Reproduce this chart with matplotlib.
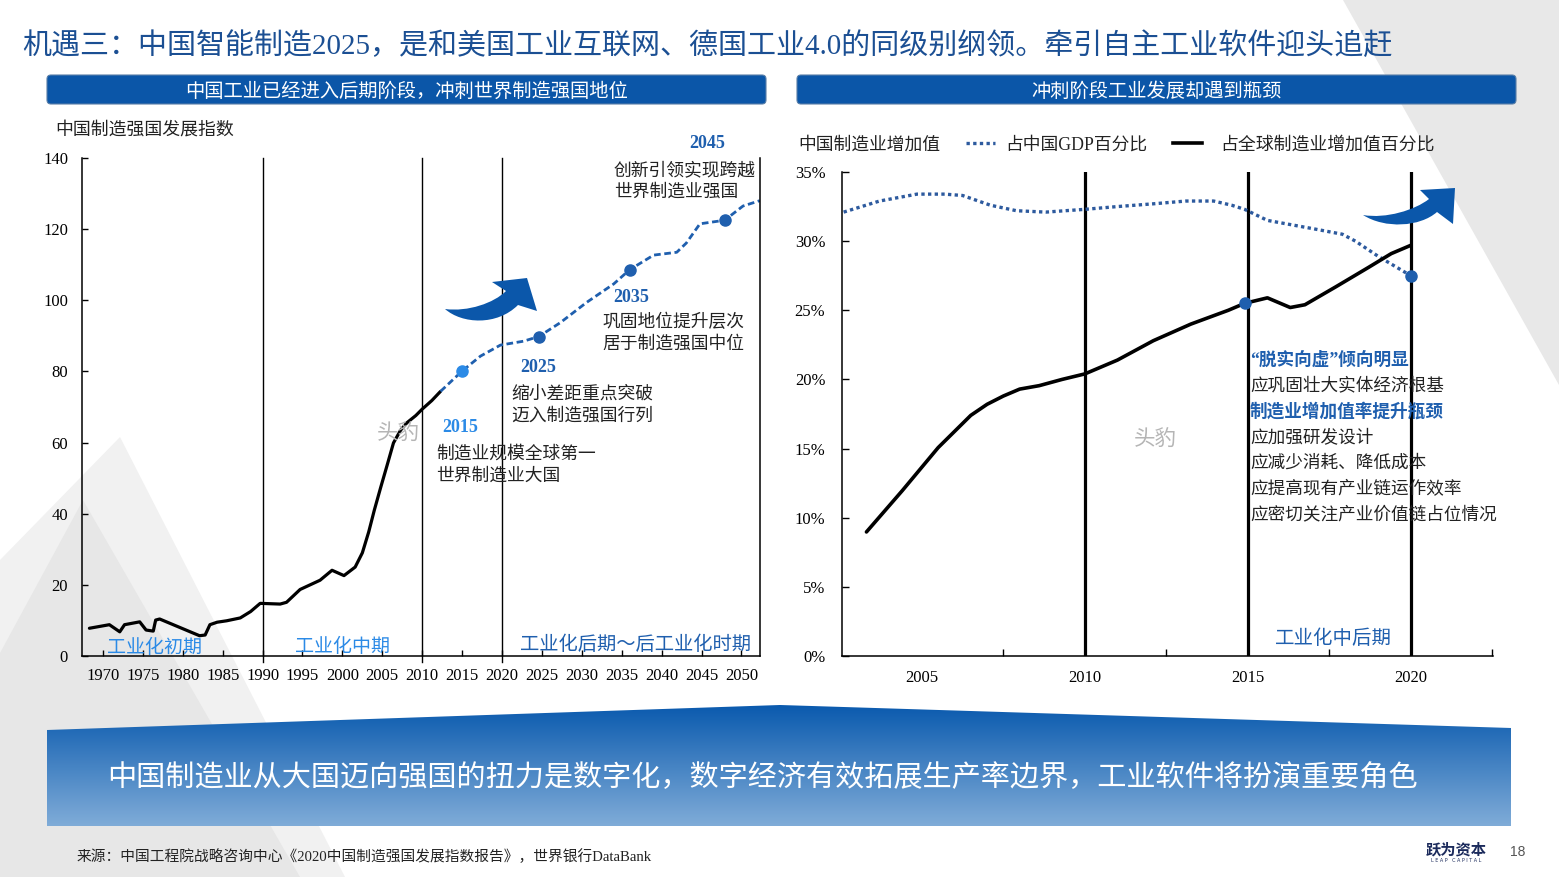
import numpy as np
import matplotlib
matplotlib.use("Agg")
import matplotlib.pyplot as plt
from matplotlib.patches import Polygon, FancyBboxPatch, PathPatch
from matplotlib.path import Path
from matplotlib.lines import Line2D

plt.rcParams['font.family'] = ['Liberation Serif', 'Noto Sans CJK SC']

# ---------------- data ----------------
# 中国制造强国发展指数 (historical, solid black)
idx_years_hist = [1968.3, 1970.8, 1972.1, 1972.7, 1974.6, 1975.4, 1976.3, 1976.6, 1977.1,
                  1982.1, 1982.8, 1983.4, 1984.3, 1985.5, 1987.2, 1988.5, 1989.7, 1992.2,
                  1993.0, 1994.7, 1997.2, 1998.7, 2000.2, 2001.6, 2002.5, 2003.3, 2004.0,
                  2004.8, 2005.6, 2006.4, 2007.3, 2008.1, 2009.2, 2010.0, 2011.2, 2012.3]
idx_values_hist = [7.8, 8.8, 6.8, 8.8, 9.6, 7.3, 7.0, 10.1, 10.4,
                   5.7, 5.9, 8.8, 9.5, 9.9, 10.7, 12.5, 14.8, 14.6,
                   15.1, 18.7, 21.3, 24.1, 22.6, 25.0, 29.0, 34.9, 41.0,
                   47.4, 53.6, 59.9, 63.5, 65.6, 67.6, 69.4, 71.8, 74.4]
# projection (dashed blue)
idx_years_proj = [2012.3, 2015.0, 2017.3, 2019.8, 2022.7, 2024.6, 2027.3, 2030.6, 2034.0,
                  2036.0, 2039.0, 2041.9, 2043.1, 2044.8, 2047.9, 2050.2, 2052.3]
idx_values_proj = [74.4, 80.1, 84.3, 87.4, 88.5, 89.8, 93.7, 99.4, 104.6,
                   108.6, 112.7, 113.5, 116.1, 121.5, 122.5, 126.5, 128.0]
milestone_x = [2015.0, 2024.6, 2036.0, 2047.9]
milestone_y = [80.1, 89.8, 108.6, 122.5]
milestone_labels = ["2015", "2025", "2035", "2045"]
milestone_text = [["制造业规模全球第一", "世界制造业大国"],
                  ["缩小差距重点突破", "迈入制造强国行列"],
                  ["巩固地位提升层次", "居于制造强国中位"],
                  ["创新引领实现跨越", "世界制造业强国"]]
left_xticks = list(range(1970, 2051, 5))
left_yticks = list(range(0, 141, 20))
left_phase_lines = [1990, 2010, 2020]

# 中国制造业增加值
gdp_years = [2002.6, 2003.7, 2004.85, 2005.7, 2006.25, 2007.1, 2007.9, 2008.8, 2010.0,
             2011.0, 2012.1, 2013.1, 2013.95, 2014.5, 2014.9, 2015.6, 2016.3, 2017.0,
             2017.9, 2018.3, 2019.0, 2020.0]
gdp_share = [32.1, 32.9, 33.4, 33.4, 33.3, 32.6, 32.2, 32.1, 32.3,
             32.5, 32.7, 32.9, 32.9, 32.6, 32.3, 31.5, 31.2, 30.9,
             30.5, 30.0, 28.9, 27.5]
glb_years = [2003.3, 2004.4, 2005.5, 2006.5, 2007.0, 2007.5, 2008.0, 2008.6, 2009.3, 2010.0,
             2011.0, 2012.1, 2013.25, 2014.4, 2014.9, 2015.6, 2015.8, 2016.3, 2016.75,
             2017.7, 2018.7, 2019.4, 2020.0]
glb_share = [8.97, 11.96, 15.07, 17.4, 18.2, 18.8, 19.3, 19.55, 20.0, 20.4,
             21.4, 22.8, 24.0, 25.0, 25.5, 25.9, 25.7, 25.2, 25.4,
             26.7, 28.1, 29.1, 29.7]
right_xticks = [2005, 2010, 2015, 2020]
right_minor = [2007.5, 2012.5, 2017.5, 2022.5]
right_yticks = list(range(0, 36, 5))
right_phase_lines = [2010, 2015, 2020]
right_notes = ["“脱实向虚”倾向明显", "应巩固壮大实体经济根基", "制造业增加值率提升瓶颈",
               "应加强研发设计", "应减少消耗、降低成本", "应提高现有产业链运作效率",
               "应密切关注产业价值链占位情况"]
right_note_blue = [True, False, True, False, False, False, False]

# ---------------- style ----------------
TITLE_BLUE = '#1b4f93'
BAR_BLUE = '#0b56a8'
DARK_BLUE = '#1f5fae'
LIGHT_BLUE = '#2b8ae6'
ARROW_BLUE = '#0b57aa'
TXT = '#222222'
CJK = ['Noto Sans CJK SC', 'DejaVu Sans']

W, H = 1559, 877
fig = plt.figure(figsize=(W / 100, H / 100), dpi=100)
fig.patch.set_facecolor('white')


def px_axes(l, t, r, b, **kw):
    return fig.add_axes([l / W, 1 - b / H, (r - l) / W, (b - t) / H], **kw)


bg = fig.add_axes([0, 0, 1, 1], zorder=0)
bg.set_xlim(0, W); bg.set_ylim(H, 0); bg.axis('off')

# background decorations
bg.add_patch(Polygon([(0, 560), (120, 437), (345, 877), (0, 877)], closed=True,
                     fc='#f1f1f1', ec='none'))
bg.add_patch(Polygon([(0, 653), (83, 500), (300, 877), (0, 877)], closed=True,
                     fc='#e7e7e7', ec='none'))
bg.add_patch(Polygon([(1343, 0), (W, 0), (W, 385)], closed=True, fc='#e8e8e8', ec='none'))

# ---------------- left chart ----------------
axL = px_axes(82, 158, 760, 656, zorder=1)
axL.set_facecolor('none')
axL.set_xlim(1967.37, 2052.33)
axL.set_ylim(0, 140)
axL.spines['top'].set_visible(False)
for s in ['left', 'bottom', 'right']:
    axL.spines[s].set_linewidth(1.1)
axL.set_xticks(left_xticks)
axL.set_yticks(left_yticks)
axL.tick_params(axis='both', direction='in', length=4, width=1, labelsize=12)
axL.tick_params(axis='x', pad=9)
axL.tick_params(axis='y', pad=10)
axL.tick_params(axis='y', right=False)
for x in left_phase_lines:
    axL.axvline(x, ymin=-0.012, ymax=1, color='black', lw=1.0, clip_on=False)
axL.plot(idx_years_hist, idx_values_hist, color='black', lw=2.3,
         solid_joinstyle='round', solid_capstyle='round')
axL.plot(idx_years_proj, idx_values_proj, color=DARK_BLUE, lw=2.0, dashes=(2.4, 1.3))
axL.plot(milestone_x[1:], milestone_y[1:], 'o', color=DARK_BLUE, ms=8, zorder=5)
axL.plot(milestone_x[:1], milestone_y[:1], 'o', color=LIGHT_BLUE, ms=8, zorder=5)

# ---------------- right chart ----------------
axR = px_axes(842, 172, 1493, 656, zorder=1)
axR.set_facecolor('none')
axR.set_xlim(2002.55, 2022.52)
axR.set_ylim(0, 35)
axR.spines['top'].set_visible(False)
axR.spines['right'].set_visible(False)
for s in ['left', 'bottom']:
    axR.spines[s].set_linewidth(1.1)
axR.set_xticks(right_xticks)
axR.set_xticks(right_minor, minor=True)
axR.set_yticks(right_yticks)
axR.set_yticklabels([f"{v}%" for v in right_yticks])
axR.tick_params(axis='x', which='major', length=0, pad=10, labelsize=12)
axR.tick_params(axis='x', which='minor', direction='in', length=5, width=1)
axR.tick_params(axis='y', direction='in', length=5, width=1, pad=12, labelsize=12)
for x in right_phase_lines:
    axR.axvline(x, color='black', lw=2.3)
axR.plot(gdp_years, gdp_share, color='#2d5a9e', lw=2.4, linestyle=(0, (1, 1)))
axR.plot(glb_years, glb_share, color='black', lw=2.6, solid_joinstyle='round',
         solid_capstyle='round')
axR.plot([glb_years[14]], [glb_share[14]], 'o', color=DARK_BLUE, ms=8, zorder=5)
axR.plot([gdp_years[-1]], [gdp_share[-1]], 'o', color=DARK_BLUE, ms=8, zorder=5)

# ---------------- foreground texts / shapes ----------------
fg = fig.add_axes([0, 0, 1, 1], zorder=2)
fg.set_xlim(0, W); fg.set_ylim(H, 0); fg.axis('off')
DY = 2

fg.text(22, 43 + 3, "机遇三：中国智能制造2025，是和美国工业互联网、德国工业4.0的同级别纲领。牵引自主工业软件迎头追赶",
        fontsize=20.9, color=TITLE_BLUE, ha='left', va='center')

for (l, r, txt) in [(47, 766, "中国工业已经进入后期阶段，冲刺世界制造强国地位"),
                    (797, 1516, "冲刺阶段工业发展却遇到瓶颈")]:
    fg.add_patch(FancyBboxPatch((l, 75), r - l, 29, boxstyle="round,pad=0,rounding_size=4",
                                fc=BAR_BLUE, ec='#5a7fa8', lw=0.8))
    fg.text((l + r) / 2, 90 + 1, txt, fontsize=13.9, color='white', ha='center', va='center',
            family=CJK)

fg.text(55, 128 + DY, "中国制造强国发展指数", fontsize=12.9, ha='left', va='center', family=CJK, color=TXT)

# milestone annotations
lab_pos = [(460, 426), (538, 367), (631, 297), (707, 143)]
txt_pos = [(436, 452), (511, 392), (602, 320), (614, 168)]
for i in range(4):
    c = LIGHT_BLUE if i == 0 else DARK_BLUE
    fg.text(lab_pos[i][0], lab_pos[i][1] + 1, milestone_labels[i], fontsize=13, fontweight='bold',
            color=c, ha='center', va='center')
    for j, line in enumerate(milestone_text[i]):
        fg.text(txt_pos[i][0], txt_pos[i][1] + 21.5 * j + DY, line, fontsize=12.8, ha='left',
                va='center', family=CJK, color=TXT)

# phase labels
fg.text(107, 646 + DY, "工业化初期", fontsize=13.7, color=LIGHT_BLUE, ha='left', va='center')
fg.text(295, 645 + DY, "工业化中期", fontsize=13.7, color=LIGHT_BLUE, ha='left', va='center')
fg.text(520, 643 + DY, "工业化后期～后工业化时期", fontsize=13.9, color=DARK_BLUE, ha='left', va='center')
fg.text(1275, 637 + DY, "工业化中后期", fontsize=14, color=DARK_BLUE, ha='left', va='center')

# watermarks
fg.text(398, 432 + DY, "头豹", fontsize=15.5, color='#b5b5b5', ha='center', va='center', family=CJK)
fg.text(1155, 438 + DY, "头豹", fontsize=15.5, color='#b5b5b5', ha='center', va='center', family=CJK)

# right legend
fg.text(798, 143 + DY, "中国制造业增加值", fontsize=12.8, ha='left', va='center', family=CJK, color=TXT)
fg.add_line(Line2D([966, 995], [143, 143], color='#2d5a9e', lw=2.4, linestyle=(0, (1, 1))))
fg.text(1005, 143 + DY, "占中国GDP百分比", fontsize=12.8, ha='left', va='center', color=TXT)
fg.add_line(Line2D([1173, 1202], [143, 143], color='black', lw=2.6))
fg.text(1220, 143 + DY, "占全球制造业增加值百分比", fontsize=12.9, ha='left', va='center', family=CJK, color=TXT)

# right notes
for i, (t, b) in enumerate(zip(right_notes, right_note_blue)):
    fg.text(1250, 358 + 25.8 * i + DY, t, fontsize=12.7, ha='left', va='center',
            color=DARK_BLUE if b else TXT, fontweight='bold' if b else 'normal')


# curved arrows
def curved_arrow(ax, tail, lower_c1, lower_c2, lower_end, head_b, tip, head_l, upper_start,
                 upper_c1, upper_c2):
    verts = [tail, lower_c1, lower_c2, lower_end, head_b, tip, head_l, upper_start,
             upper_c1, upper_c2, tail, tail]
    codes = [Path.MOVETO, Path.CURVE4, Path.CURVE4, Path.CURVE4, Path.LINETO, Path.LINETO,
             Path.LINETO, Path.LINETO, Path.CURVE4, Path.CURVE4, Path.CURVE4, Path.CLOSEPOLY]
    ax.add_patch(PathPatch(Path(verts, codes), fc=ARROW_BLUE, ec='none'))


curved_arrow(fg, (445, 309), (462, 324), (497, 326), (518, 305), (537, 311), (527, 278),
             (492, 282), (506, 291), (494, 303), (468, 312))
curved_arrow(fg, (1363, 215), (1385, 229), (1420, 227), (1437, 212), (1453, 224), (1455, 188),
             (1420, 190), (1429, 199), (1415, 210), (1386, 219))

# bottom banner with gradient
banner = Polygon([(47, 730), (780, 705), (1511, 728), (1511, 826), (47, 826)], closed=True,
                 fc='none', ec='none')
fg.add_patch(banner)
t = np.linspace(0, 1, 256).reshape(-1, 1, 1)
top = np.array([10, 90, 174]) / 255.0
bot = np.array([128, 172, 216]) / 255.0
grad = top * (1 - t) + bot * t
im = fg.imshow(grad, extent=[47, 1511, 826, 705], aspect='auto', zorder=1)
im.set_clip_path(banner)
fg.set_xlim(0, W); fg.set_ylim(H, 0)
fg.text(763, 776 + DY, "中国制造业从大国迈向强国的扭力是数字化，数字经济有效拓展生产率边界，工业软件将扮演重要角色",
        fontsize=21, color='white', ha='center', va='center', family=CJK, zorder=3)

# footer
fg.text(77, 856 + 1, "来源：中国工程院战略咨询中心《2020中国制造强国发展指数报告》，世界银行DataBank",
        fontsize=10.6, ha='left', va='center', color=TXT)
fg.text(1456, 850, "跃为资本", fontsize=11, fontweight='bold', color='#1c2b5c', ha='center',
        va='center', family=CJK)
fg.text(1456, 861, "L E A P   C A P I T A L", fontsize=3.5, color='#1c2b5c', ha='center',
        va='center', family=['DejaVu Sans'])
fg.text(1518, 852, "18", fontsize=10, color='#555555', ha='center', va='center',
        family=['Liberation Sans'])

fig.savefig("out.png", dpi=100)
